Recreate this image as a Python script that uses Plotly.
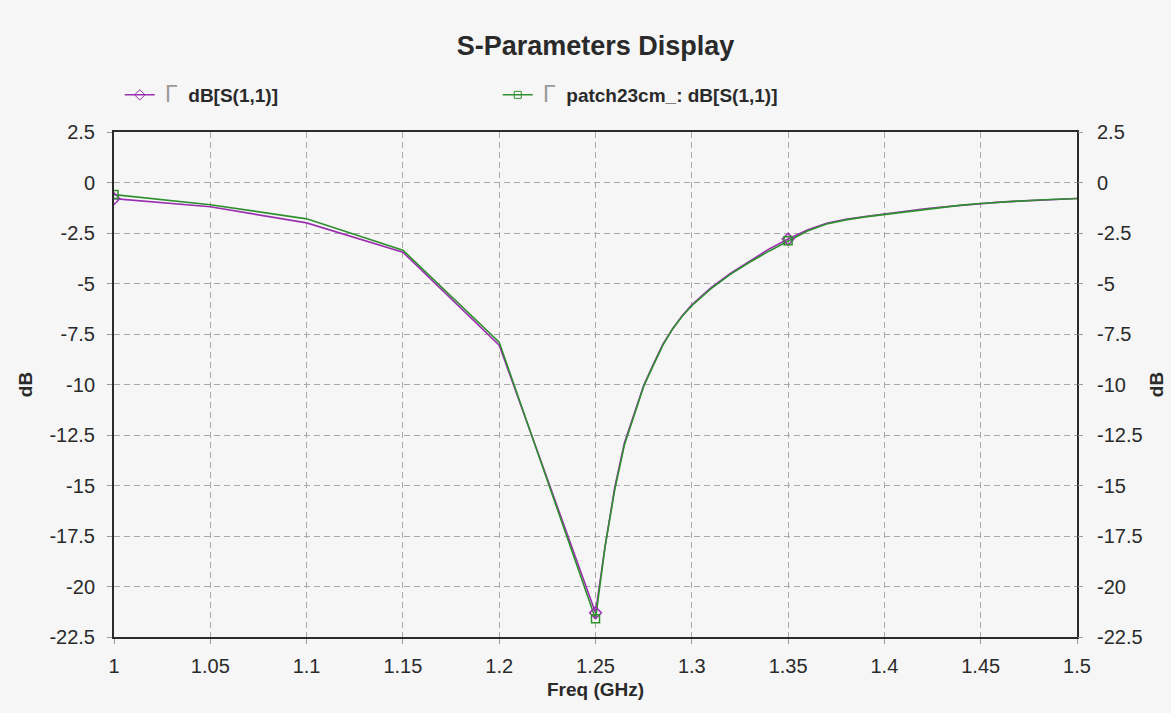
import plotly.graph_objects as go

# ---------------- data ----------------
S11_FREQ = [1.00, 1.05, 1.10, 1.15, 1.20, 1.25, 1.255, 1.26, 1.265, 1.27, 1.275,
            1.28, 1.285, 1.29, 1.295, 1.30, 1.31, 1.32, 1.33, 1.34, 1.35, 1.36,
            1.37, 1.38, 1.39, 1.40, 1.41, 1.42, 1.43, 1.44, 1.45, 1.46, 1.47,
            1.48, 1.49, 1.50]
S11_DB = [-0.80, -1.20, -2.00, -3.45, -8.05, -21.30, -18.00, -15.10, -12.90,
          -11.45, -10.05, -9.00, -8.00, -7.25, -6.60, -6.05, -5.20, -4.50, -3.90,
          -3.30, -2.80, -2.35, -2.02, -1.82, -1.68, -1.55, -1.43, -1.31, -1.21,
          -1.12, -1.04, -0.97, -0.92, -0.87, -0.84, -0.79]

PATCH_FREQ = [1.00, 1.05, 1.10, 1.15, 1.20, 1.25, 1.255, 1.26, 1.265, 1.27, 1.275,
              1.28, 1.285, 1.29, 1.295, 1.30, 1.31, 1.32, 1.33, 1.34, 1.35, 1.36,
              1.37, 1.38, 1.39, 1.40, 1.41, 1.42, 1.43, 1.44, 1.45, 1.46, 1.47,
              1.48, 1.49, 1.50]
PATCH_DB = [-0.60, -1.10, -1.80, -3.35, -7.90, -21.60, -18.00, -15.20, -13.00,
            -11.50, -10.10, -9.05, -8.05, -7.25, -6.62, -6.10, -5.25, -4.55, -3.95,
            -3.40, -2.88, -2.40, -2.05, -1.85, -1.70, -1.58, -1.45, -1.33, -1.22,
            -1.12, -1.04, -0.97, -0.92, -0.87, -0.84, -0.79]

MARKER_FREQS = [1.00, 1.25, 1.35]

X_TICKS = [1.00, 1.05, 1.10, 1.15, 1.20, 1.25, 1.30, 1.35, 1.40, 1.45, 1.50]
X_TICK_LABELS = ["1", "1.05", "1.1", "1.15", "1.2", "1.25", "1.3", "1.35", "1.4", "1.45", "1.5"]
Y_TICKS = [2.5, 0, -2.5, -5, -7.5, -10, -12.5, -15, -17.5, -20, -22.5]
Y_TICK_LABELS = ["2.5", "0", "-2.5", "-5", "-7.5", "-10", "-12.5", "-15", "-17.5", "-20", "-22.5"]

TITLE = "S-Parameters Display"
NAME_1 = "dB[S(1,1)]"
NAME_2 = "patch23cm_: dB[S(1,1)]"
X_TITLE = "Freq (GHz)"
Y_TITLE = "dB"

# ---------------- styling ----------------
PURPLE = "#9a2fb0"
GREEN = "#2f8f2f"
BG = "#f6f6f6"
GRID = "#a9a9a9"
FRAME = "#2b2b2b"
TXT = "#2a2a2a"
FONT = "Liberation Sans, Arial, sans-serif"


def pick(freqs, vals, wanted):
    xs, ys = [], []
    for f, v in zip(freqs, vals):
        if any(abs(f - w) < 1e-9 for w in wanted):
            xs.append(f)
            ys.append(v)
    return xs, ys


fig = go.Figure()

# lines
fig.add_trace(go.Scatter(x=S11_FREQ, y=S11_DB, mode="lines",
                         line=dict(color=PURPLE, width=1.6), showlegend=False,
                         hoverinfo="skip"))
fig.add_trace(go.Scatter(x=PATCH_FREQ, y=PATCH_DB, mode="lines",
                         line=dict(color=GREEN, width=1.6), showlegend=False,
                         hoverinfo="skip"))
# markers
mx, my = pick(S11_FREQ, S11_DB, MARKER_FREQS)
fig.add_trace(go.Scatter(x=mx, y=my, mode="markers", showlegend=False,
                         marker=dict(symbol="diamond-open", size=9,
                                     color=PURPLE, line=dict(width=1.5))))
mx, my = pick(PATCH_FREQ, PATCH_DB, MARKER_FREQS)
fig.add_trace(go.Scatter(x=mx, y=my, mode="markers", showlegend=False,
                         marker=dict(symbol="square-open", size=8,
                                     color=GREEN, line=dict(width=1.5))))

# legend entries (on the right-hand axis so that it is drawn)
box = " <span style='color:#9a9a9a;font-weight:normal;font-size:23px'>Γ</span>  "
fig.add_trace(go.Scatter(x=[None], y=[None], mode="lines+markers", yaxis="y2",
                         name=box + "<b>" + NAME_1 + "</b>",
                         line=dict(color=PURPLE, width=1.5),
                         marker=dict(symbol="diamond-open", size=8, color=PURPLE)))
fig.add_trace(go.Scatter(x=[None], y=[None], mode="lines+markers", yaxis="y2",
                         name=box + "<b>" + NAME_2 + "</b>",
                         line=dict(color=GREEN, width=1.5),
                         marker=dict(symbol="square-open", size=7, color=GREEN)))

axis_common = dict(
    tickfont=dict(family=FONT, size=20, color=TXT),
    ticks="outside", ticklen=5, tickcolor="#9a9a9a", tickwidth=1,
    zeroline=False, automargin=False,
)

fig.update_layout(
    width=1171, height=713, autosize=False,
    margin=dict(l=114, r=94, t=132, b=76),
    paper_bgcolor=BG, plot_bgcolor=BG,
    font=dict(family=FONT, color=TXT),
    title=dict(text="<b>" + TITLE + "</b>", x=0.5, xref="paper",
               y=1 - 46 / 713, yref="container", yanchor="middle",
               font=dict(family=FONT, size=27, color=TXT)),
    xaxis=dict(range=[1.0, 1.5], tickvals=X_TICKS, ticktext=X_TICK_LABELS,
               showgrid=True, gridcolor=GRID, griddash="6px,4px", gridwidth=1,
               showline=True, mirror=True, linecolor=FRAME, linewidth=2,
               ticklabelstandoff=5,
               title=dict(text="<b>" + X_TITLE + "</b>", standoff=7,
                          font=dict(family=FONT, size=19, color=TXT)),
               **axis_common),
    yaxis=dict(range=[-22.5, 2.5], tickvals=Y_TICKS, ticktext=Y_TICK_LABELS,
               showgrid=True, gridcolor=GRID, griddash="6px,4px", gridwidth=1,
               showline=True, mirror=True, linecolor=FRAME, linewidth=2,
               ticklabelstandoff=8,
               title=dict(text="<b>" + Y_TITLE + "</b>", standoff=12,
                          font=dict(family=FONT, size=19, color=TXT)),
               **axis_common),
    yaxis2=dict(range=[-22.5, 2.5], tickvals=Y_TICKS, ticktext=Y_TICK_LABELS,
                overlaying="y", side="right", anchor="x",
                showgrid=False, showline=False,
                ticklabelstandoff=10,
                title=dict(text="<b>" + Y_TITLE + "</b>", standoff=8,
                           font=dict(family=FONT, size=19, color=TXT)),
                **axis_common),
    legend=dict(orientation="h", x=0.006, xanchor="left",
                y=1 + 37 / 505, yanchor="middle",
                bgcolor="rgba(0,0,0,0)", borderwidth=0,
                entrywidth=333, entrywidthmode="pixels",
                font=dict(family=FONT, size=19, color=TXT)),
    showlegend=True,
)

fig.write_html("out.html")
